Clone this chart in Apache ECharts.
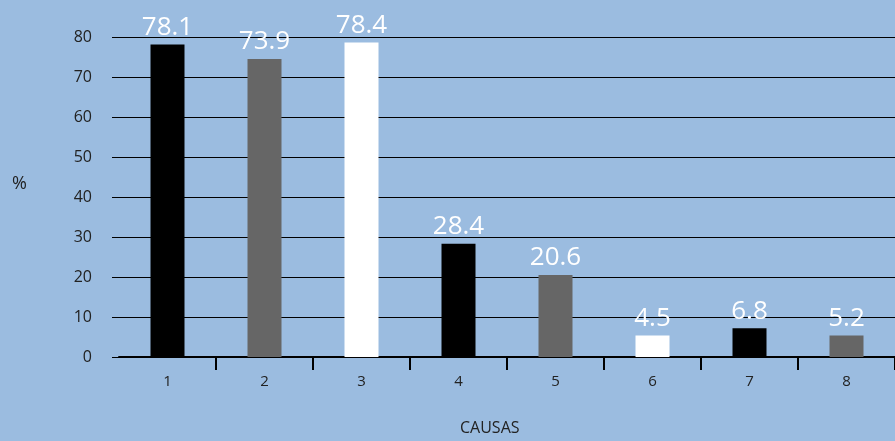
<!DOCTYPE html>
<html>
<head>
<meta charset="utf-8">
<script src="https://cdn.jsdelivr.net/npm/echarts@6/dist/echarts.min.js"></script>
<style>
  html, body { margin: 0; padding: 0; background: #9bbce0; }
  #chart { width: 895px; height: 441px; }
</style>
</head>
<body>
<div id="chart"></div>
<script>
// categories (causas)
const categories = ['1', '2', '3', '4', '5', '6', '7', '8']
// bar heights as drawn in the picture
const barValues = [78.1, 74.5, 78.6, 28.3, 20.5, 5.4, 7.2, 5.4]
// printed value labels
const valueLabels = ['78.1', '73.9', '78.4', '28.4', '20.6', '4.5', '6.8', '5.2']
const yTicks = [0, 10, 20, 30, 40, 50, 60, 70, 80]

const barColors = ['#000000', '#666666', '#ffffff']

const chart = echarts.init(document.getElementById('chart'))

const option = {
  backgroundColor: '#9bbce0',
  animation: false,
  grid: {
    left: 119,
    top: 37,
    width: 786,
    bottom: 84
  },
  graphic: [
    {
      type: 'text',
      left: 12,
      top: 175,
      style: { text: '%', fontSize: 18, fill: '#222', fontFamily: 'Open Sans' }
    },
    {
      type: 'text',
      left: 460,
      top: 420,
      style: { text: 'CAUSAS', fontSize: 16, fill: '#222', fontFamily: 'Open Sans' }
    }
  ],
  xAxis: {
    type: 'category',
    data: categories,
    axisLine: { lineStyle: { color: '#000', width: 2 } },
    axisTick: {
      show: true,
      length: 13,
      interval: (i) => i > 0,
      lineStyle: { color: '#000', width: 2 }
    },
    axisLabel: { color: '#222', fontSize: 15, margin: 17, fontFamily: 'Open Sans' }
  },
  yAxis: {
    type: 'value',
    min: yTicks[0],
    max: yTicks[yTicks.length - 1],
    interval: 10,
    axisLine: { show: false },
    axisTick: { show: true, length: 7, lineStyle: { color: '#000', width: 1 } },
    splitLine: { lineStyle: { color: '#000', width: 1 } },
    axisLabel: { color: '#222', fontSize: 16, margin: 27, fontFamily: 'Open Sans' }
  },
  series: [
    {
      type: 'bar',
      barWidth: 34,
      data: barValues.map((v, i) => ({
        value: v,
        itemStyle: { color: barColors[i % 3] }
      })),
      label: {
        show: true,
        position: 'top',
        distance: 4,
        color: '#fff',
        fontSize: 26,
        fontFamily: 'Open Sans',
        formatter: (p) => valueLabels[p.dataIndex]
      }
    }
  ]
}

chart.setOption(option)
</script>
</body>
</html>
